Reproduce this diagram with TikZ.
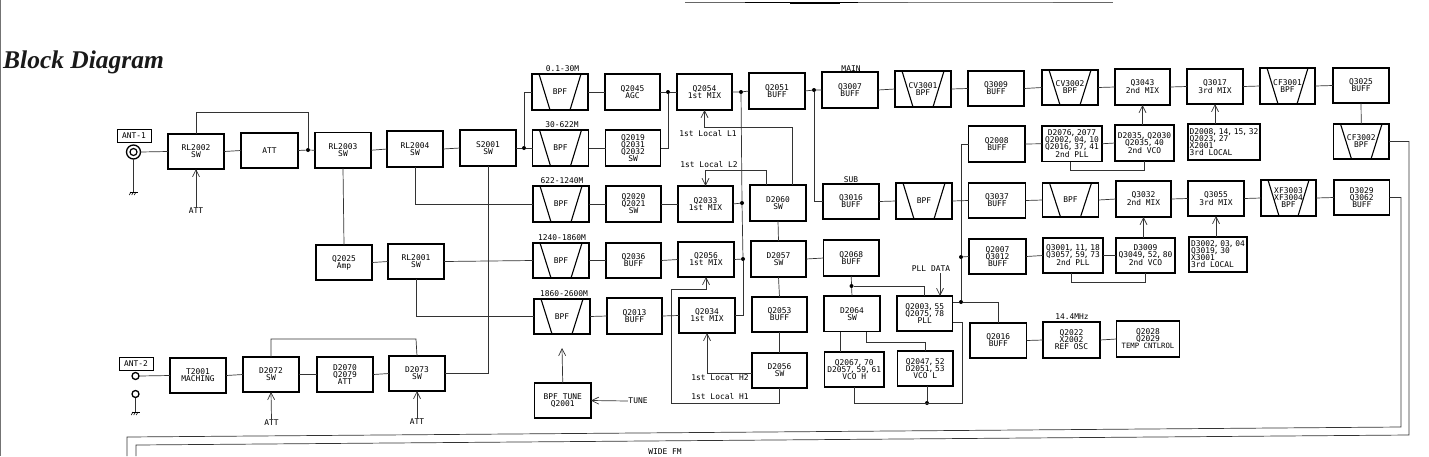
\documentclass[tikz,border=0pt]{standalone}
\usepackage{fontspec}
\newfontfamily\titlefont{Liberation Serif}
\newfontfamily\plotfont{DejaVu Sans Mono}
\usetikzlibrary{calc,arrows.meta}
\newcommand{\cm}{\kern-1pt,\kern-1pt\ \kern-2pt}
\tikzset{
  blk/.style={draw=black,line width=1.2pt,inner sep=0pt,outer sep=0pt,align=center,font=\plotfont\fontsize{7.9}{7}\selectfont,text=black},
  lbl/.style={inner sep=0.5pt,outer sep=0pt,align=center,font=\plotfont\fontsize{7.9}{7}\selectfont,text=black},
  wire/.style={draw=black!80,line width=0.7pt},
  arr/.style={wire,-{Straight Barb[length=7pt,width=7pt]}},
  dotn/.style={circle,fill=black,inner sep=0pt,outer sep=0pt,minimum size=4pt},
  trap/.style={line width=1.1pt,draw=black},
  antlab/.style={draw=black,line width=1pt,inner sep=0pt,minimum width=34pt,minimum height=13pt,font=\plotfont\fontsize{7.9}{7}\selectfont}
}
\newcommand{\blk}[7][]{\node[blk,minimum width={(#5-#3)*1pt},minimum height={(#6-#4)*1pt},#1] (#2) at ({(#3+#5)/2},{(#4+#6)/2}) {#7};}
\newcommand{\bpf}[6]{\blk{#1}{#2}{#3}{#4}{#5}{#6}
  \draw[trap] ($(#1.north west)+(7,0)$) -- ($(#1.south west)+(18,0)$);
  \draw[trap] ($(#1.north east)+(-7,0)$) -- ($(#1.south east)+(-18,0)$);}
\newcommand{\gnd}[1]{\draw[line width=1pt] ($(#1)+(-4,0)$) -- ($(#1)+(4,0)$);
  \foreach \d in {-2.5,0,2.5}{\draw[line width=0.6pt] ($(#1)+(\d,0)$) -- ++(-1.8,3);}}
\begin{document}
\begin{tikzpicture}[x=1pt,y=-1pt]
\useasboundingbox (0,0) rectangle (1429,456);
\draw[draw=black!55,line width=1.2pt] (0.3,0) -- (0.3,456);
\draw[draw=black!60,line width=0.6pt] (685,2.7) -- (1113,2.7);
\draw[draw=black,line width=1.1pt] (745,2.7) -- (858,2.7);
\draw[draw=black,line width=1.2pt] (790,3.6) -- (840,3.6);
\draw[draw=black!50,line width=1.2pt] (908,2.7) -- (1053,2.7);
\node[inner sep=0pt,anchor=west,font=\titlefont\bfseries\itshape\fontsize{25.5}{25}\selectfont,text=black!90] (title) at (3,62) {Block Diagram};
% antennas
\node[antlab] (ant1lab) at (134,135.5) {ANT-1};
\node[antlab] (ant2lab) at (136,363.5) {ANT-2};
\node[circle,draw=black,line width=1.3pt,minimum size=14pt,inner sep=0pt,outer sep=0pt] (ant1) at (133.5,152) {};
\node[circle,draw=black,line width=1.2pt,minimum size=7pt,inner sep=0pt] (ant1i) at (133.5,152) {};
\node[circle,draw=black,line width=1.3pt,minimum size=7pt,inner sep=0pt,outer sep=0pt] (a2a) at (135.5,376) {};
\node[circle,draw=black,line width=1.3pt,minimum size=7pt,inner sep=0pt,outer sep=0pt] (a2b) at (135.5,394) {};
\coordinate (g1) at (133.5,192);
\coordinate (g2) at (135.5,412);
\draw[wire] (ant1.south) -- (g1);
\draw[wire] (a2b.south) -- (g2);
\gnd{g1}\gnd{g2}
% left column
\blk{RL2002}{168}{134}{224}{169}{RL2002\\SW}
\blk{ATTb}{241}{133}{298}{168}{ATT}
\blk{RL2003}{315}{132.5}{371}{168}{RL2003\\SW}
\blk{RL2004}{387}{131}{443}{167}{RL2004\\SW}
\blk{S2001}{460}{130}{516}{166}{S2001\\SW}
\blk{Q2025}{316}{245}{372}{280}{Q2025\\Amp}
\blk{RL2001}{388}{244}{444}{279}{RL2001\\SW}
\blk{T2001}{170}{358}{226}{393}{T2001\\MACHING}
\blk{D2072}{243}{357}{299}{392}{D2072\\SW}
\blk{D2070}{317}{357}{373}{392}{D2070\\Q2079\\ATT}
\blk{D2073}{389}{356}{445}{391}{D2073\\SW}
% BPF column
\bpf{BPFa}{532}{74}{588}{110}{BPF}
\bpf{BPFb}{532.5}{130}{588.5}{166}{BPF}
\bpf{BPFc}{533}{186}{589}{222}{BPF}
\bpf{BPFd}{533}{243}{589}{278}{BPF}
\bpf{BPFe}{534}{299}{590}{334}{BPF}
\node[lbl] (fa) at (562.5,69) {0.1-30M};
\node[lbl] (fb) at (562,125) {30-622M};
\node[lbl] (fc) at (562,181) {622-1240M};
\node[lbl] (fd) at (562,238) {1240-1860M};
\node[lbl] (fe) at (564,294) {1860-2600M};
\blk{BPFT}{534.5}{383}{591}{418}{BPF TUNE\\Q2001}
% second column
\blk{Q2045}{605}{74}{660}{110}{Q2045\\AGC}
\blk{Q2019}{605.5}{130}{660.5}{166}{Q2019\\Q2031\\Q2032\\SW}
\blk{Q2020}{606}{186}{661}{222}{Q2020\\Q2021\\SW}
\blk{Q2036}{606}{243}{661}{278}{Q2036\\BUFF}
\blk{Q2013}{607}{298}{662}{334}{Q2013\\BUFF}
\blk{Q2054}{677}{74}{732}{110}{Q2054\\1st MIX}
\blk{Q2033}{678}{186}{733}{222}{Q2033\\1st MIX}
\blk{Q2056}{678}{242}{734}{277}{Q2056\\1st MIX}
\blk{Q2034}{679}{298}{735}{333}{Q2034\\1st MIX}
\blk{Q2051}{749}{73}{805}{109}{Q2051\\BUFF}
\blk{D2060}{750}{185}{806}{221}{D2060\\SW}
\blk{D2057}{751}{241}{806}{277}{D2057\\SW}
\blk{Q2053}{752}{297}{807}{332}{Q2053\\BUFF}
\blk{D2056}{752}{353}{807}{388}{D2056\\SW}
\node[lbl] (l1t) at (708,134) {1st Local L1};
\node[lbl] (l2t) at (709,165) {1st Local L2};
\node[lbl] (h2t) at (720,378) {1st Local H2};
\node[lbl] (h1t) at (720,397) {1st Local H1};
\node[lbl] (tune) at (638,401) {TUNE};
% main row
\blk{Q3007}{822}{72}{878}{108}{Q3007\\BUFF}
\bpf{CV3001}{895}{71}{951}{107}{CV3001\\BPF}
\blk{Q3009}{968}{71}{1024}{106}{Q3009\\BUFF}
\bpf{CV3002}{1042}{70}{1098}{105}{CV3002\\BPF}
\blk{Q3043}{1115}{69}{1170}{105}{Q3043\\2nd MIX}
\blk{Q3017}{1187}{69}{1243}{104}{Q3017\\3rd MIX}
\bpf{CF3001}{1260}{68}{1315}{104}{CF3001\\BPF}
\blk{Q3025}{1333}{68}{1389}{103}{Q3025\\BUFF}
\bpf{CF3002}{1333.5}{124}{1389}{159}{CF3002\\BPF}
\node[lbl] (main) at (851,68.5) {MAIN};
\node[lbl] (sub) at (851,180) {SUB};
% second row
\blk{Q2008}{968.5}{126}{1025}{162}{Q2008\\BUFF}
\blk{PLLa}{1042}{126}{1102}{161.5}{D2076\cm 2077\\Q2002\cm 04\cm 10\\Q2016\cm 37\cm 41\\2nd PLL}
\blk{VCOa}{1115}{125}{1174}{161}{D2035\cm Q2030\\Q2035\cm 40\\2nd VCO}
\blk[align=left]{LOCa}{1188}{124}{1260}{160}{D2008\cm 14\cm 15\cm 32\\Q2023\cm 27\\X2001\\3rd LOCAL}
% sub row
\blk{Q3016}{823}{184}{879}{219}{Q3016\\BUFF}
\bpf{BPFs}{896}{183}{952}{219}{BPF}
\blk{Q3037}{968.5}{183}{1025.5}{218}{Q3037\\BUFF}
\bpf{BPFt}{1042.5}{183}{1098.5}{217}{BPF}
\blk{Q3032}{1116}{181}{1171}{217}{Q3032\\2nd MIX}
\blk{Q3055}{1188}{181}{1244}{216}{Q3055\\3rd MIX}
\bpf{XF}{1261}{180}{1316}{216}{XF3003\\XF3004\\BPF}
\blk{D3029}{1334}{180}{1389.5}{215}{D3029\\Q3062\\BUFF}
% fourth row
\blk{Q2007}{969}{239}{1026}{274}{Q2007\\Q3012\\BUFF}
\blk{PLLb}{1043}{238}{1103}{273}{Q3001\cm 11\cm 18\\Q3057\cm 59\cm 73\\2nd PLL}
\blk{VCOb}{1116}{238}{1175}{273}{D3009\\Q3049\cm 52\cm 80\\2nd VCO}
\blk[align=left]{LOCb}{1189}{237}{1247}{272}{D3002\cm 03\cm 04\\Q3019\cm 30\\X3001\\3rd LOCAL}
\blk{Q2068}{823.5}{240}{879}{276}{Q2068\\BUFF}
\blk{D2064}{824}{296}{880}{331.5}{D2064\\SW}
\blk{PLLc}{897}{296}{952.5}{331}{Q2003\cm 55\\Q2075\cm 78\\PLL}
\blk{VCOH}{824.5}{352}{884}{387}{Q2067\cm 70\\D2057\cm 59\cm 61\\VCO H}
\blk{VCOL}{897.5}{351}{953}{386}{Q2047\cm 52\\D2051\cm 53\\VCO L}
\blk{Q2016}{970}{323}{1026.5}{358}{Q2016\\BUFF}
\blk{Q2022}{1043}{322}{1100}{358}{Q2022\\X2002\\REF OSC}
\blk{Q2028}{1116.5}{321}{1179.5}{357}{Q2028\\Q2029\\\fontsize{7.3}{7}\selectfont TEMP CNTLROL}
\node[lbl] (mhz) at (1072,317) {14.4MHz};
\node[lbl] (plldata) at (931,269) {PLL DATA};
\node[lbl] (wide) at (665,452) {WIDE FM};
\node[lbl] (att1) at (196,211) {ATT};
\node[lbl] (att2) at (271.5,423) {ATT};
\node[lbl] (att3) at (417,422) {ATT};
% junctions
\node[dotn] (j1) at (308,150) {};
\node[dotn] (j2) at (524,148) {};
\node[dotn] (j3) at (668,92) {};
\node[dotn] (j4) at (741,92) {};
\node[dotn] (j5) at (742,203) {};
\node[dotn] (j6) at (743,259) {};
\node[dotn] (j7) at (814,90) {};
\node[dotn] (j8) at (961,257) {};
\node[dotn] (j9) at (961,302) {};
\node[dotn] (j10) at (927,403) {};
\node[dotn] (j11) at (851.5,286) {};
% bend coordinates
\coordinate (t1) at (308,112);
\coordinate (t2) at (416,339);
\coordinate (l1) at (792,127);
\coordinate (l2) at (766,170);
\coordinate (h2) at (752,373);
\coordinate (h1a) at (671,403);
\coordinate (h1b) at (671,289);
\coordinate (c1) at (1070,170);
\coordinate (c2) at (1071,282);
\coordinate (e2) at (1409,435);
\coordinate (e3) at (136,445);
\coordinate (e4) at (136,456);
\coordinate (f2) at (1401,427);
\coordinate (f3) at (127,437);
\coordinate (f4) at (127,456);
\coordinate (pl) at (962,322);
\coordinate (p2) at (962,403);
\coordinate (p3) at (854.5,403);
\coordinate (da) at (840.5,340);
\coordinate (db) at (866,342);
\coordinate (pd) at (940,273);
\coordinate (tt) at (562,348);
% horizontal chains
\foreach \a/\b in {RL2002/ATTb,RL2003/RL2004,RL2004/S2001,Q2025/RL2001,T2001/D2072,D2072/D2070,D2070/D2073,
  BPFa/Q2045,BPFb/Q2019,BPFc/Q2020,BPFd/Q2036,BPFe/Q2013,Q2020/Q2033,Q2036/Q2056,Q2013/Q2034,
  Q3007/CV3001,CV3001/Q3009,Q3009/CV3002,CV3002/Q3043,Q3043/Q3017,Q3017/CF3001,CF3001/Q3025,
  Q3016/BPFs,BPFs/Q3037,Q3037/BPFt,BPFt/Q3032,Q3032/Q3055,Q3055/XF,XF/D3029,
  Q2008/PLLa,PLLa/VCOa,Q2007/PLLb,PLLb/VCOb,Q2016/Q2022,Q2022/Q2028,D2057/Q2068,RL2001/BPFd}
  {\draw[wire] (\a.east) -- (\b.west);}
\foreach \a/\b in {D2060/D2057,D2057/Q2053,Q2053/D2056,RL2003/Q2025,Q3025/CF3002}
  {\draw[wire] (\a.south) -- (\b.north);}
\draw[wire] (ant1.east) -- (RL2002.west);
\draw[wire] (a2a.east) -- (T2001.west);
\draw[wire] (ATTb.east) -- (j1) -- (RL2003.west);
\draw[wire] (RL2002.north) |- (t1) -- (j1);
\draw[wire] (S2001.east) -- (j2) -- (BPFb.west);
\draw[wire] (j2) |- (BPFa.west);
\draw[wire] (RL2004.south) |- (BPFc.west);
\draw[wire] (RL2001.south) |- (BPFe.west);
\draw[wire] (S2001.south) |- (D2073.east);
\draw[wire] (D2072.north) |- (t2) -- (D2073.north);
\draw[arr] (att1.north) -- (RL2002.south);
\draw[arr] (att2.north) -- (D2072.south);
\draw[arr] (att3.north) -- (D2073.south);
\draw[wire] (Q2045.east) -- (j3) -- (Q2054.west);
\draw[wire] (Q2019.east) -| (j3);
\draw[wire] (Q2054.east) -- (j4) -- (Q2051.west);
\draw[wire] (Q2033.east) -- (j5);
\draw[wire] (Q2056.east) -- (j6);
\draw[wire] (Q2034.east) -| (j6);
\draw[wire] (j4) -- (j5) -- (j6);
\draw[wire] (Q2051.east) -- (j7) -- (Q3007.west);
\draw[wire] (j7) |- (Q3016.west);
\draw[arr] (D2060.north -| l1) -- (l1) -| (Q2054.south);
\draw[arr] (D2060.north -| l2) -- (l2) -| (Q2033.north);
\draw[arr] (D2056.west |- h2) -| (Q2034.south);
\draw[arr] (D2056.south) |- (h1a) -- (h1b) -| (Q2056.south);
\draw[arr] (BPFT.north) -- (tt);
\draw[arr] (tune.west) -- (BPFT.east);
\draw[wire] (Q2008.west) -| (j8) -- (j9);
\draw[wire] (Q2007.west) -- (j8);
\draw[wire] (PLLc.east |- j9) -- (j9) -| (Q2016.north);
\draw[wire] (PLLc.east |- pl) -- (pl) -- (p2) -- (p3) -- (VCOH.south -| p3);
\draw[wire] (VCOL.south -| j10) -- (j10);
\draw[wire] (Q2068.south) -- (j11) -- (D2064.north);
\draw[wire] (j11) -| (PLLc.north);
\draw[wire] (D2064.south -| da) -- (VCOH.north -| da);
\draw[wire] (D2064.south -| db) -- (db) -| (VCOL.north);
\draw[arr] (pd) -- (PLLc.north -| pd);
\draw[arr] (VCOa.north -| Q3043.south) -- (Q3043.south);
\draw[arr] (VCOb.north -| Q3032.south) -- (Q3032.south);
\draw[arr] (LOCa.north -| Q3017.south) -- (Q3017.south);
\draw[arr] (LOCb.north -| Q3055.south) -- (Q3055.south);
\draw[wire] (PLLa.south -| c1) -- (c1) -| (VCOa.south);
\draw[wire] (PLLb.south -| c2) -- (c2) -| (VCOb.south);
\draw[wire] (CF3002.east) -| (e2) -- (e3) -- (e4);
\draw[wire] (D3029.east) -| (f2) -- (f3) -- (f4);
\end{tikzpicture}
\end{document}
